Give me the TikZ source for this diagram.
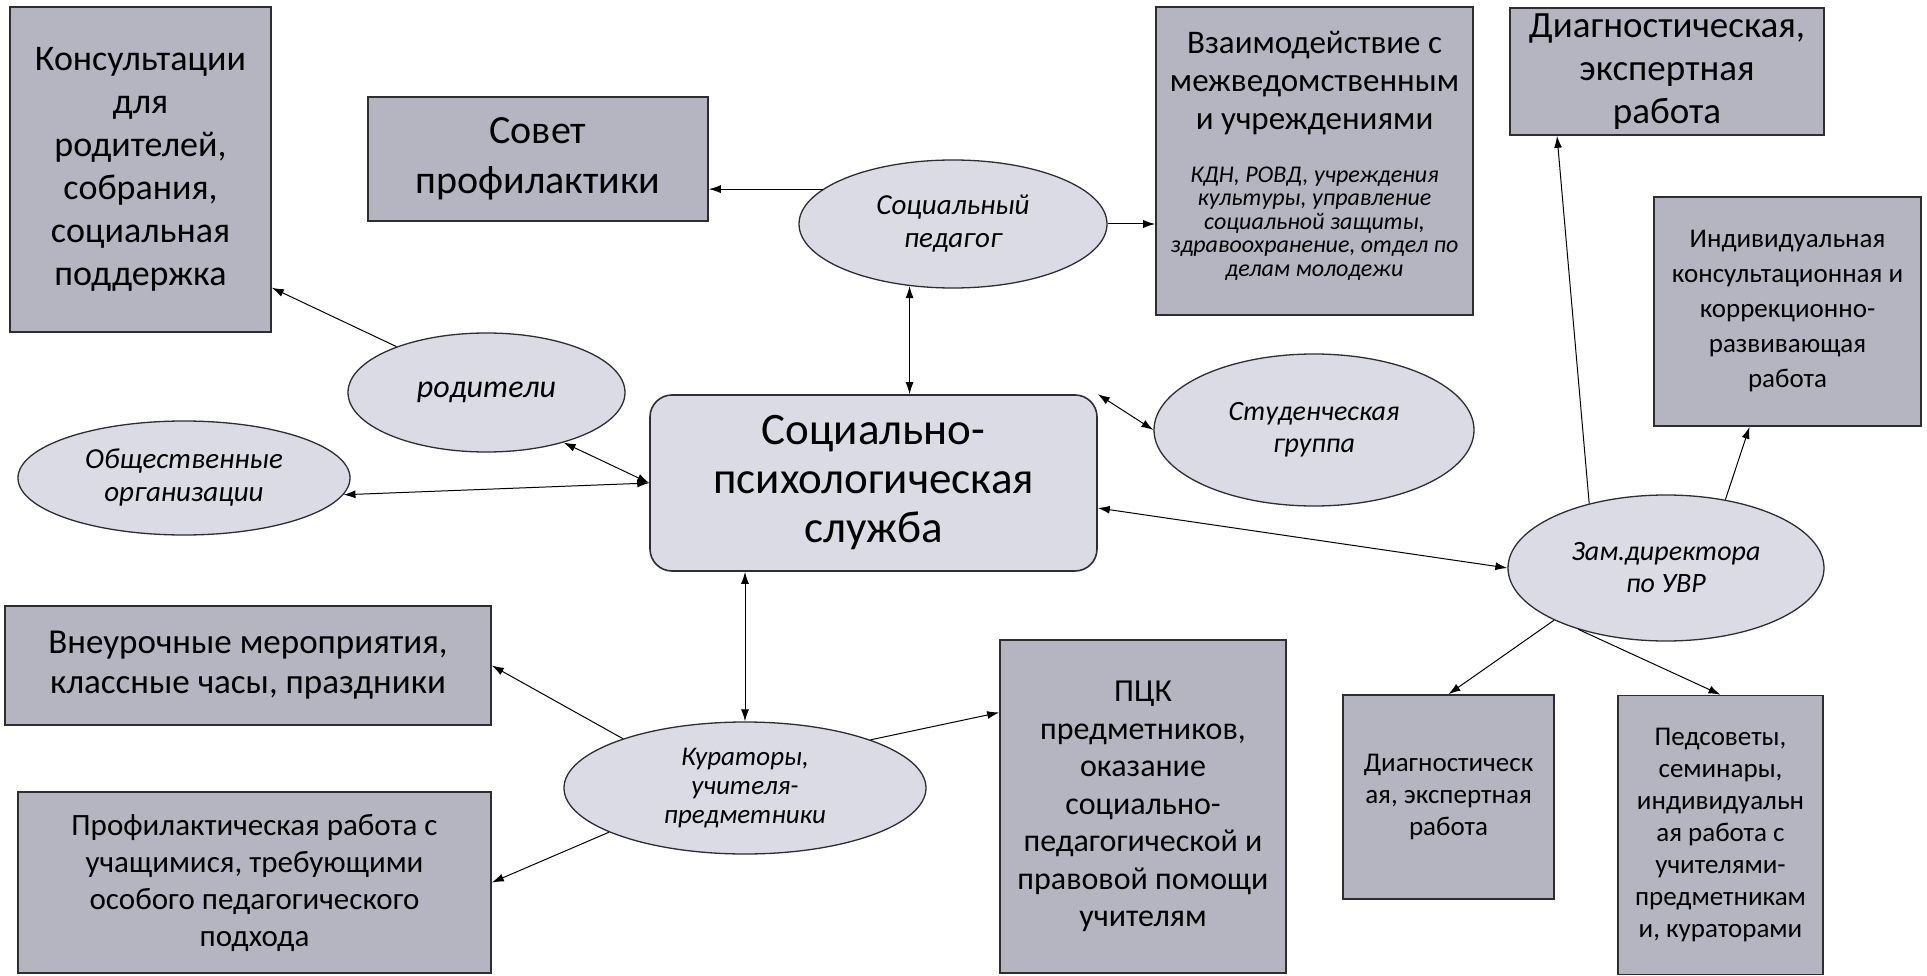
\documentclass[tikz,border=0pt]{standalone}
\usepackage{fontspec}
\setmainfont{Carlito}
\usetikzlibrary{shapes.geometric, arrows.meta, positioning}
\definecolor{boxgray}{RGB}{181,181,193}
\definecolor{ovalgray}{RGB}{219,219,229}
\definecolor{edgegray}{RGB}{45,45,50}

\begin{document}
\begin{tikzpicture}[x=1pt, y=-1pt]
    \tikzstyle{box} = [rectangle, inner sep=0pt, align=center, draw=edgegray, line width=1.6pt, fill=boxgray]
    \tikzstyle{oval} = [ellipse, inner sep=0pt, align=center, draw=edgegray, line width=1.3pt, fill=ovalgray]
    \tikzstyle{hub} = [rectangle, rounded corners=22pt, inner sep=0pt, align=center, draw=edgegray, line width=1.6pt, fill=ovalgray]
    \tikzstyle{arrow} = [line width=1pt, ->, >={Latex[length=12pt,width=8pt]}]
    \tikzstyle{both} = [line width=1pt, <->, >={Latex[length=12pt,width=8pt]}]

    \useasboundingbox (0,0) rectangle (1927,976);

    % boxes
    \node (kons) [box, minimum width=261pt, minimum height=325pt, font=\fontsize{36}{43}\selectfont] at (140.5,169.5) {Консультации\\для\\родителей,\\собрания,\\социальная\\поддержка};
    \node (sovet) [box, minimum width=340pt, minimum height=124pt, font=\fontsize{40}{50}\selectfont] at (538,159) {Совет\\профилактики};
    \node (vzaim) [box, minimum width=317pt, minimum height=308pt] at (1314.5,161) {{\fontsize{33}{38}\selectfont\begin{tabular}{@{}c@{}}Взаимодействие с\\межведомственным\\и учреждениями\end{tabular}}\\[24pt]{\fontsize{24}{23.5}\itshape\selectfont\begin{tabular}{@{}c@{}}КДН, РОВД, учреждения\\культуры, управление\\социальной защиты,\\здравоохранение, отдел по\\делам молодежи\\[12pt]\end{tabular}}};
    \node (diag1) [box, minimum width=314pt, minimum height=127pt, font=\fontsize{37}{43}\selectfont] at (1667,71.5) {Диагностическая,\\экспертная\\работа};
    \node (indiv) [box, minimum width=267pt, minimum height=229pt, font=\fontsize{27}{35}\selectfont] at (1787.5,311.5) {Индивидуальная\\консультационная и\\коррекционно-\\развивающая\\работа};
    \node (vneur) [box, minimum width=486pt, minimum height=119pt, font=\fontsize{35}{40}\selectfont] at (248,665.5) {Внеурочные мероприятия,\\классные часы, праздники};
    \node (profil) [box, minimum width=473pt, minimum height=181pt, font=\fontsize{31}{37}\selectfont] at (254.5,882.5) {Профилактическая работа с\\учащимися, требующими\\особого педагогического\\подхода};
    \node (pck) [box, minimum width=286pt, minimum height=333pt, font=\fontsize{32}{37.5}\selectfont] at (1143,806.5) {ПЦК\\предметников,\\оказание\\социально-\\педагогической и\\правовой помощи\\учителям};
    \node (diag2) [box, minimum width=211pt, minimum height=204pt, font=\fontsize{27}{32}\selectfont] at (1448.5,797) {Диагностическ\\ая, экспертная\\работа};
    \node (pedsov) [box, minimum width=205pt, minimum height=279pt, font=\fontsize{27}{32}\selectfont] at (1720.5,835) {Педсоветы,\\семинары,\\индивидуальн\\ая работа с\\учителями-\\предметникам\\и, кураторами};

    % centre
    \node (central) [hub, minimum width=447pt, minimum height=176pt, font=\fontsize{45}{49}\selectfont] at (873.5,483) {Социально-\\психологическая\\служба};

    % ovals
    \node (socped) [oval, minimum width=308pt, minimum height=128pt, font=\fontsize{29}{33}\itshape\selectfont] at (953,224) {Социальный\\педагог};
    \node (roditeli) [oval, minimum width=277pt, minimum height=119pt, font=\fontsize{32}{36}\itshape\selectfont] at (486.5,392.5) {родители};
    \node (obsh) [oval, minimum width=332pt, minimum height=114pt, font=\fontsize{29}{33}\itshape\selectfont] at (184,478) {Общественные\\организации};
    \node (student) [oval, minimum width=320pt, minimum height=152pt, font=\fontsize{28}{32}\itshape\selectfont] at (1314,430) {Студенческая\\группа};
    \node (zam) [oval, minimum width=316pt, minimum height=146pt, font=\fontsize{28}{32}\itshape\selectfont] at (1666,568) {Зам.директора\\по УВР};
    \node (kur) [oval, minimum width=362pt, minimum height=132pt, font=\fontsize{27}{29}\itshape\selectfont] at (745,788) {Кураторы,\\учителя-\\предметники};

    % connectors
    \draw [arrow] (socped.165) -- (socped.165 -| sovet.east);
    \draw [arrow] (socped.east) -- (socped.east -| vzaim.west);
    \draw [both] (socped.235) -- (socped.235 |- central.north);
    \draw [both] (central.north east) -- (student.west);
    \draw [both] ([yshift=-25pt]central.east) -- (zam.west);
    \draw [both] (roditeli.-33) -- (central.west);
    \draw [both] (obsh.-6) -- (central.west);
    \draw [arrow] (roditeli.153) -- (kons.-42.5);
    \draw [arrow] (kur.158) -- (vneur.east);
    \draw [arrow] (kur.198) -- (profil.east);
    \draw [both] (kur.north |- central.south) -- (kur.north);
    \draw [arrow] (kur.21) -- ([yshift=94pt]pck.west);
    \draw [arrow] (zam.140) -- ([xshift=-110pt]diag1.south);
    \draw [arrow] (zam.49) -- ([xshift=-38pt]indiv.south);
    \draw [arrow] (zam.205) -- (diag2.north);
    \draw [arrow] (zam.215) -- (pedsov.north);
\end{tikzpicture}
\end{document}
